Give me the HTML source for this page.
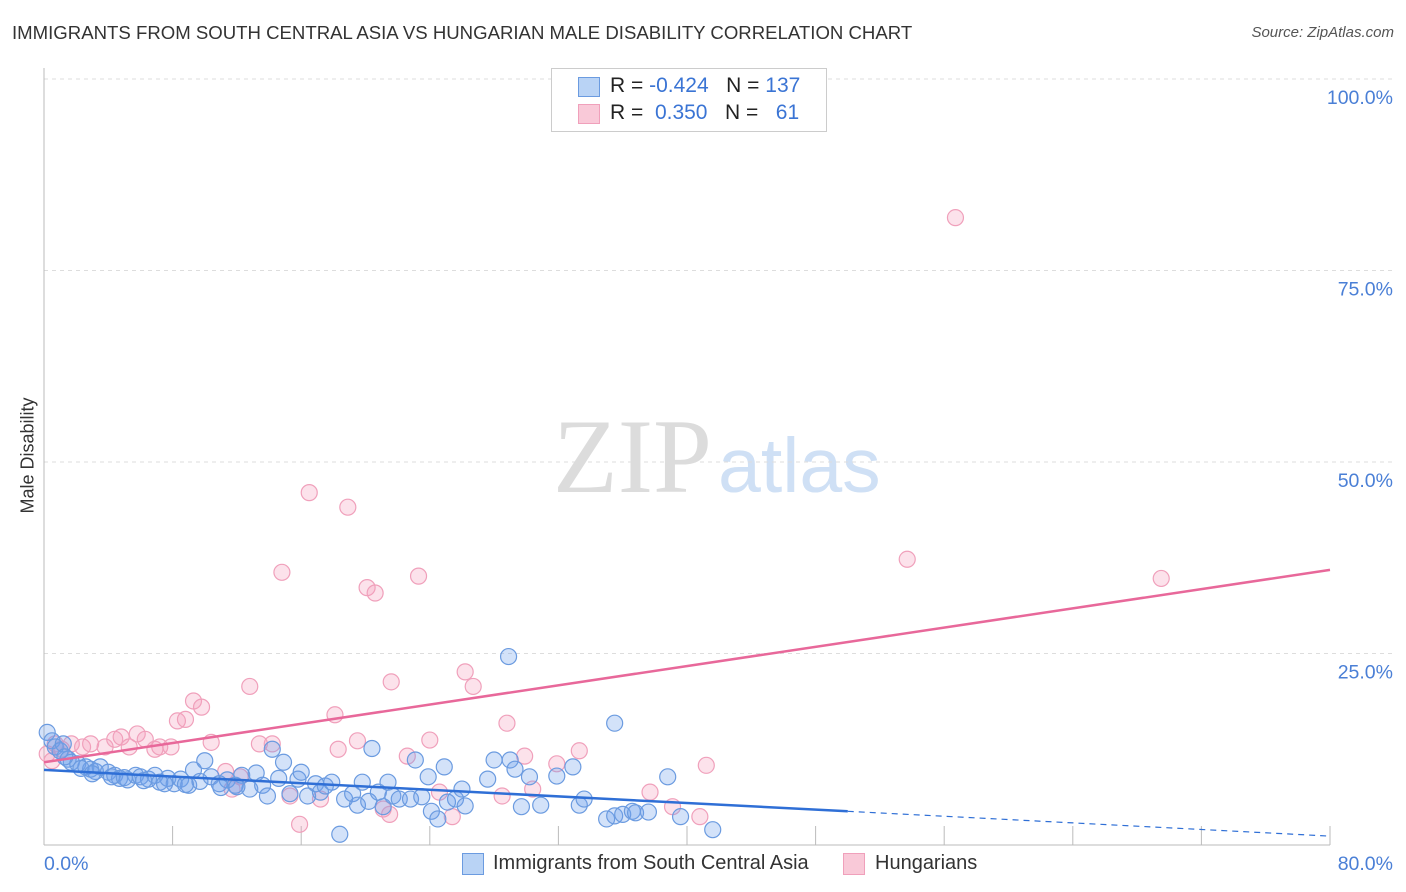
<!DOCTYPE html>
<html><head><meta charset="utf-8"><style>
body{margin:0;background:#fff;font-family:"Liberation Sans",sans-serif;}
#wrap{position:relative;width:1406px;height:892px;overflow:hidden;}
.t{position:absolute;white-space:nowrap;}
</style></head><body>
<div id="wrap">
<div class="t" style="left:12px;top:22px;font-size:18.6px;color:#333;">IMMIGRANTS FROM SOUTH CENTRAL ASIA VS HUNGARIAN MALE DISABILITY CORRELATION CHART</div>
<div class="t" style="right:12px;top:24px;font-size:15px;color:#555;font-style:italic;">Source: ZipAtlas.com</div>
<div class="t" style="left:-32px;top:445px;font-size:18px;color:#333;transform:rotate(-90deg);transform-origin:center;width:120px;text-align:center;">Male Disability</div>
<svg id="plot" width="1406" height="892" style="position:absolute;left:0;top:0">
<text x="553" y="492" font-family="Liberation Serif,serif" font-size="106" fill="#dcdcdc">ZIP</text>
<text x="718" y="492" font-family="Liberation Sans,sans-serif" font-size="77" fill="#cfe0f5">atlas</text>
</svg>
<div style="position:absolute;left:551px;top:68px;width:274px;height:62px;border:1px solid #ccc;background:#fff;">
 <div style="position:absolute;left:26px;top:8px;width:20px;height:18px;background:#b9d3f5;border:1px solid #6b9be0;"></div>
 <div class="t" style="left:58px;top:5px;font-size:21px;color:#222;">R = <span style="color:#3a74d4">-0.424</span>&nbsp;&nbsp;&nbsp;N = <span style="color:#3a74d4">137</span></div>
 <div style="position:absolute;left:26px;top:35px;width:20px;height:18px;background:#f9c9d8;border:1px solid #f0a0bb;"></div>
 <div class="t" style="left:58px;top:32px;font-size:21px;color:#222;">R = &nbsp;<span style="color:#3a74d4">0.350</span>&nbsp;&nbsp;&nbsp;N = &nbsp;&nbsp;<span style="color:#3a74d4">61</span></div>
</div>
<div style="position:absolute;left:462px;top:853px;width:20px;height:20px;background:#b9d3f5;border:1px solid #6b9be0;"></div>
<div class="t" style="left:493px;top:852px;font-size:20px;color:#333;">Immigrants from South Central Asia</div>
<div style="position:absolute;left:843px;top:853px;width:20px;height:20px;background:#f9c9d8;border:1px solid #f0a0bb;"></div>
<div class="t" style="left:875px;top:852px;font-size:20px;color:#333;">Hungarians</div>
</div>
<script>
const blueX=[0.2,0.5,0.7,1.0,1.2,1.5,1.7,2.1,2.6,2.9,3.2,3.5,4.0,4.4,4.7,5.2,5.7,6.0,6.5,6.9,7.2,7.7,8.1,8.5,9.0,9.3,9.7,10.0,10.4,10.9,11.4,11.9,12.3,12.8,13.2,13.6,13.9,14.2,14.6,14.9,15.3,15.8,16.0,16.4,16.9,17.2,17.5,17.9,18.4,18.7,19.2,19.5,19.8,20.2,20.4,20.8,21.1,21.4,21.7,22.1,22.8,23.1,23.5,23.9,24.1,24.5,24.9,25.1,25.6,26.0,26.2,27.6,28.0,28.9,29.0,29.3,29.7,30.2,30.9,31.9,32.9,33.3,33.6,35.0,35.5,36.0,36.6,36.8,37.6,35.5,38.8,39.6,41.6,1.3,2.3,3.0,4.2,5.0,6.2,7.5,8.8,11.0,12.0];
const blueY=[14.7,13.6,12.8,12.3,13.2,11.2,10.8,10.6,10.2,9.9,9.6,10.2,9.5,9.1,8.7,8.5,9.1,8.9,8.6,9.1,8.2,8.7,8.0,8.6,7.8,9.8,8.3,11.0,8.9,8.0,8.5,7.8,9.1,7.3,9.4,7.8,6.4,12.5,8.7,10.8,6.7,8.6,9.5,6.4,8.0,6.9,7.7,8.2,1.4,6.0,6.7,5.2,8.2,5.7,12.6,6.9,5.0,8.2,6.4,6.0,6.0,11.1,6.3,8.9,4.4,3.4,10.2,5.6,6.0,7.3,5.1,8.6,11.1,24.6,11.1,9.9,5.0,8.9,5.2,9.0,10.2,5.2,6.0,3.4,3.8,4.0,4.4,4.2,4.3,15.9,8.9,3.7,2.0,11.5,10.0,9.3,8.9,8.8,8.4,8.0,7.9,7.5,7.6];
const pinkX=[0.2,0.7,1.1,1.7,2.4,2.9,3.8,4.4,4.8,5.3,5.8,6.3,6.9,7.2,7.9,8.3,8.8,9.3,9.8,10.4,11.3,11.7,12.2,12.8,13.4,14.2,14.8,15.3,15.9,16.5,17.2,18.1,18.3,18.9,19.5,20.1,20.6,21.1,21.5,21.6,22.6,23.3,24.0,24.6,25.4,26.2,26.7,28.5,28.8,29.9,30.4,31.9,33.3,37.7,39.1,40.8,41.2,53.7,56.7,69.5,0.5];
const pinkY=[11.9,13.2,12.5,13.2,12.8,13.2,12.8,13.8,14.1,12.8,14.5,13.8,12.5,12.8,12.8,16.2,16.4,18.8,18.0,13.4,9.6,7.3,8.9,20.7,13.2,13.2,35.6,6.4,2.7,46.0,6.0,17.0,12.5,44.1,13.6,33.6,32.9,4.7,4.0,21.3,11.6,35.1,13.7,6.9,3.7,22.6,20.7,6.4,15.9,11.6,7.3,10.6,12.3,6.9,5.0,3.7,10.4,37.3,81.9,34.8,11.0];
const yTicks=[25,50,75,100];
const yTickLabels=["25.0%","50.0%","75.0%","100.0%"];
const xTicks=[8,16,24,32,40,48,56,64,72,80];
const blueTrend=[9.8,-0.108];const pinkTrend=[10.8,0.314];
const X0=44,X1=1330,Y0=845,Y100=79;
const sx=v=>X0+(v/80)*(X1-X0);
const sy=v=>Y0-(v/100)*(Y0-Y100);
const svg=document.getElementById('plot');const NS='http://www.w3.org/2000/svg';
function mk(t,a){const e=document.createElementNS(NS,t);for(const k in a)e.setAttribute(k,a[k]);svg.appendChild(e);return e;}
yTicks.forEach((v,i)=>{
 const g=mk('line',{x1:X0,x2:1392,y1:sy(v),y2:sy(v),stroke:'#ddd','stroke-dasharray':'4,4'});
 
 
 const t=mk('text',{x:1393,y:sy(v)+25,'text-anchor':'end','font-size':19.5,fill:'#4a7fd6','font-family':'Liberation Sans,sans-serif'});
 t.textContent=yTickLabels[i];
 
 
});
const ax=mk('line',{x1:X0,x2:X0,y1:68,y2:Y0,stroke:'#bbb'});


const bx=mk('line',{x1:X0,x2:X1,y1:Y0,y2:Y0,stroke:'#bbb'});


xTicks.forEach(v=>{const l=mk('line',{x1:sx(v),x2:sx(v),y1:Y0-19,y2:Y0,stroke:'#bbb'});
 
 });
[[0,'0.0%',44,'start'],[80,'80.0%',1393,'end']].forEach(a=>{const t=mk('text',{x:a[2],y:870,'text-anchor':a[3],'font-size':19.5,fill:'#4a7fd6','font-family':'Liberation Sans,sans-serif'});t.textContent=a[1];
 
 });
pinkX.forEach((x,i)=>{const c=mk('circle',{cx:sx(x),cy:sy(pinkY[i]),r:8,fill:'rgba(244,160,190,0.3)',stroke:'#f0a0bb','stroke-width':1.2});
 
 });
blueX.forEach((x,i)=>{const c=mk('circle',{cx:sx(x),cy:sy(blueY[i]),r:8,fill:'rgba(110,160,235,0.3)',stroke:'#6b9be0','stroke-width':1.2});
 
 });
const bt=x=>blueTrend[0]+blueTrend[1]*x, pt=x=>pinkTrend[0]+pinkTrend[1]*x;
const l1=mk('line',{x1:sx(0),y1:sy(bt(0)),x2:sx(50),y2:sy(bt(50)),stroke:'#2f6fd6','stroke-width':2.5});


const l2=mk('line',{x1:sx(50),y1:sy(bt(50)),x2:sx(80),y2:sy(bt(80)),stroke:'#2f6fd6','stroke-width':1.2,'stroke-dasharray':'6,5'});


const l3=mk('line',{x1:sx(0),y1:sy(pt(0)),x2:sx(80),y2:sy(pt(80)),stroke:'#e8689a','stroke-width':2.5});


</script>
</body></html>
